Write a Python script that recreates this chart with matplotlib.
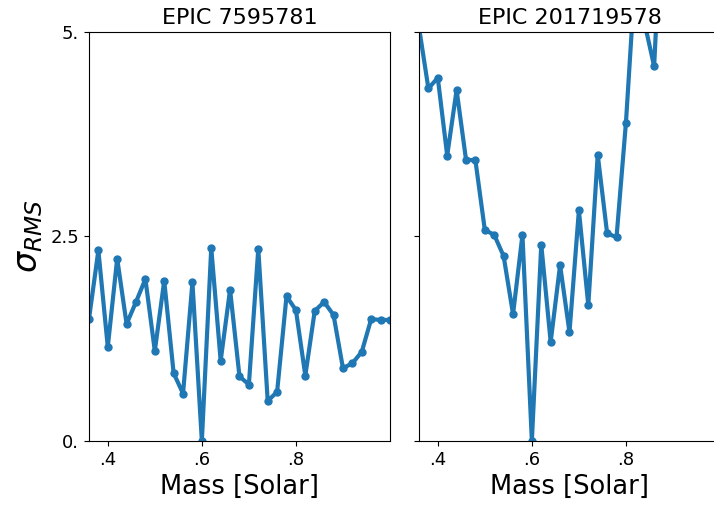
"""
Scatter of sigma_RMS against trial stellar mass for two EPIC targets,
drawn side by side with a shared y axis.
"""

import matplotlib

matplotlib.use("Agg")
import matplotlib.pyplot as plt
import numpy as np

# trial masses, 0.36 to 1.00 in 0.02 steps
mass = [0.36, 0.38, 0.40, 0.42, 0.44, 0.46, 0.48, 0.50, 0.52, 0.54, 0.56,
        0.58, 0.60, 0.62, 0.64, 0.66, 0.68, 0.70, 0.72, 0.74, 0.76, 0.78,
        0.80, 0.82, 0.84, 0.86, 0.88, 0.90, 0.92, 0.94, 0.96, 0.98, 1.00]

sigma_7595781 = [1.49, 2.33, 1.15, 2.23, 1.43, 1.70, 1.98, 1.10, 1.96, 0.83,
                 0.58, 1.94, 0.00, 2.36, 0.98, 1.85, 0.79, 0.69, 2.35, 0.49,
                 0.60, 1.77, 1.60, 0.80, 1.59, 1.70, 1.54, 0.89, 0.95, 1.09,
                 1.49, 1.48, 1.48]

sigma_201719578 = [5.06, 4.31, 4.44, 3.49, 4.29, 3.44, 3.43, 2.58, 2.52, 2.26,
                   1.55, 2.52, 0.00, 2.40, 1.21, 2.15, 1.33, 2.82, 1.66, 3.50,
                   2.54, 2.49, 3.89, 5.72, 5.10, 4.58, 6.97, 7.60, 8.20, 8.90,
                   9.40, 10.1, 10.8]

titles = ["EPIC 7595781", "EPIC 201719578"]
x_ticks = [0.4, 0.6, 0.8]
x_tick_labels = [".4", ".6", ".8"]
y_ticks = [0.0, 2.5, 5.0]
y_tick_labels = ["0.", "2.5", "5."]

color = "#1f77b4"

fig = plt.figure(figsize=(7.14, 5.08), dpi=100)
ax1 = fig.add_axes([0.1246, 0.1319, 0.4216, 0.8051])
ax2 = fig.add_axes([0.5868, 0.1319, 0.4216, 0.8051], sharey=ax1)

for ax, sig, title in zip([ax1, ax2], [sigma_7595781, sigma_201719578], titles):
    ax.plot(mass, sig, "-o", color=color, lw=3, ms=5)
    ax.set_xlim(0.36, 1.0)
    ax.set_ylim(0, 5)
    ax.set_xticks(x_ticks)
    ax.set_xticklabels(x_tick_labels)
    ax.set_title(title, fontsize=16)
    ax.set_xlabel("Mass [Solar]", fontsize=18.5)
    ax.tick_params(labelsize=13)

ax1.set_yticks(y_ticks)
ax1.set_yticklabels(y_tick_labels)
ax1.set_ylabel(r"$\sigma_{RMS}$", fontsize=24)
ax2.tick_params(labelleft=False)

fig.savefig("out.png", dpi=100)
